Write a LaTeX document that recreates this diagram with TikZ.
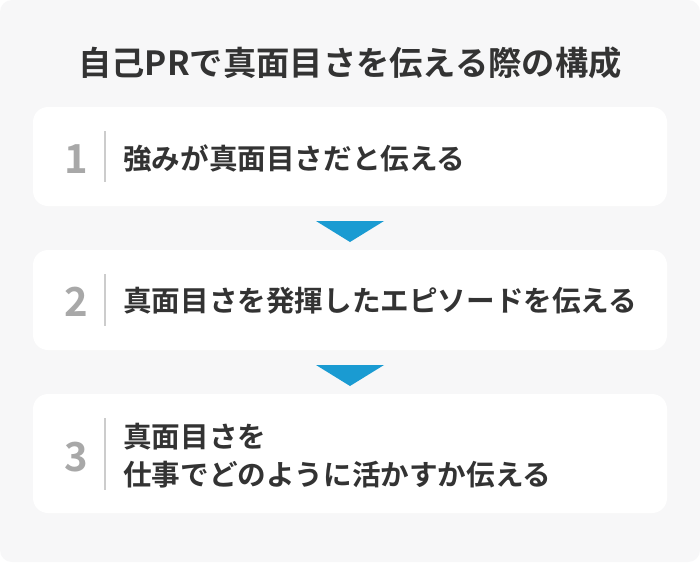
\documentclass[tikz,border=0pt]{standalone}
\usepackage{fontspec}
\setmainfont{Noto Sans CJK JP}[BoldFont={Noto Sans CJK JP Bold}]
\newfontfamily\jpb{Noto Sans CJK JP Bold}
\definecolor{bggray}{HTML}{F7F7F8}
\definecolor{txt}{HTML}{333333}
\definecolor{numgray}{HTML}{A8A8A8}
\definecolor{sepgray}{HTML}{CCCCCC}
\definecolor{triblue}{HTML}{1A9BD2}
\tikzset{
  x=1pt,y=-1pt,
  itembox/.style={fill=white,rounded corners=15pt},
  numtxt/.style={font=\jpb\fontsize{40pt}{40pt}\selectfont,text=numgray,inner sep=0pt},
  itemtxt/.style={font=\jpb\fontsize{28.6pt}{38pt}\selectfont,text=txt,anchor=west,align=left,inner sep=0pt},
  sepline/.style={draw=sepgray,line width=1.5pt},
  arrowtri/.style={fill=triblue},
}
\begin{document}
\begin{tikzpicture}
\useasboundingbox (0,0) rectangle (700,562);
\fill[white] (0,0) rectangle (700,562);
\fill[bggray,rounded corners=12pt] (0,0) rectangle (700,562);
\node[font=\jpb\fontsize{33.3pt}{36pt}\selectfont,text=txt,inner sep=0pt] (title) at (350,63) {自己PRで真面目さを伝える際の構成};
% boxes
\path[itembox] (33,107) rectangle (667,206);
\path[itembox] (33,250) rectangle (667,350);
\path[itembox] (33,394) rectangle (667,513);
% numbers
\node[numtxt] (n1) at (76,159) {1};
\node[numtxt] (n2) at (76,302) {2};
\node[numtxt] (n3) at (76,457) {3};
% separators
\coordinate (s1a) at (105,131); \coordinate (s1b) at (105,182);
\coordinate (s2a) at (105,274); \coordinate (s2b) at (105,326);
\coordinate (s3a) at (105,418); \coordinate (s3b) at (105,490);
\draw[sepline] (s1a) -- (s1b);
\draw[sepline] (s2a) -- (s2b);
\draw[sepline] (s3a) -- (s3b);
% texts
\node[itemtxt] (t1) at (123,158) {強みが真面目さだと伝える};
\node[itemtxt] (t2) at (123,301) {真面目さを発揮したエピソードを伝える};
\node[itemtxt] (t3) at (123,456) {真面目さを\\仕事でどのように活かすか伝える};
% triangles
\coordinate (a1l) at (316,221); \coordinate (a1r) at (384,221); \coordinate (a1b) at (350,242);
\coordinate (a2l) at (316,365); \coordinate (a2r) at (384,365); \coordinate (a2b) at (350,386);
\fill[arrowtri] (a1l) -- (a1r) -- (a1b) -- cycle;
\fill[arrowtri] (a2l) -- (a2r) -- (a2b) -- cycle;
\end{tikzpicture}
\end{document}
